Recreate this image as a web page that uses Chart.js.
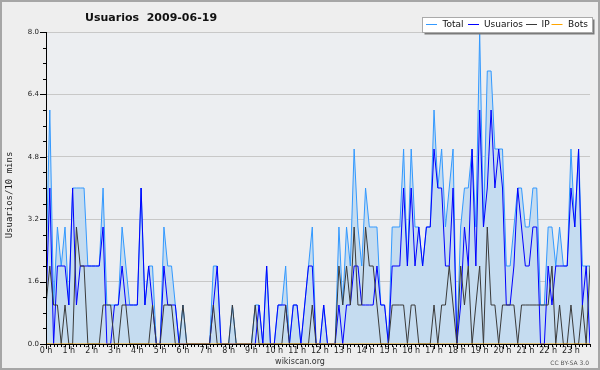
<!DOCTYPE html>
<html>
<head>
<meta charset="utf-8">
<script src="https://cdn.jsdelivr.net/npm/chart.js@4"></script>
<style>
  html, body { margin: 0; padding: 0; background: #eeeeee; }
  #wrap { width: 600px; height: 370px; }
</style>
</head>
<body>
<div id="wrap"><canvas id="chart" width="600" height="370"></canvas></div>
<script>
// 10-minute slots, 144 per day
const hourLabels = ['0 h', '1 h', '2 h', '3 h', '4 h', '5 h', '6 h', '7 h', '8 h', '9 h', '10 h', '11 h',
    '12 h', '13 h', '14 h', '15 h', '16 h', '17 h', '18 h', '19 h', '20 h', '21 h', '22 h', '23 h'];

const totalData = [
    2, 6, 1, 3, 2, 3, 1, 4, 4, 4, 4, 2, 2, 2, 2, 4, 1, 1, 1, 1, 3, 2, 1, 1,
    1, 4, 1, 2, 2, 0, 0, 3, 2, 2, 1, 0, 1, 0, 0, 0, 0, 0, 0, 0, 2, 2, 0, 0,
    0, 1, 0, 0, 0, 0, 0, 1, 1, 0, 2, 0, 0, 1, 1, 2, 0, 1, 1, 0, 1, 2, 3, 0,
    0, 1, 0, 0, 0, 3, 1, 3, 2, 5, 3, 2, 4, 3, 3, 3, 1, 1, 0, 3, 3, 3, 5, 2,
    5, 3, 3, 2, 3, 3, 6, 4, 5, 3, 4, 5, 0, 3, 4, 4, 5, 3, 8, 3, 7, 7, 5, 5,
    5, 2, 2, 3, 4, 4, 3, 3, 4, 4, 1, 1, 3, 3, 2, 3, 2, 2, 5, 3, 5, 2, 2, 2
];
const usuariosData = [
    1, 4, 0, 2, 2, 2, 1, 4, 1, 2, 2, 2, 2, 2, 2, 3, 0, 0, 1, 1, 2, 1, 1, 1,
    1, 4, 1, 2, 1, 0, 0, 2, 1, 1, 1, 0, 0, 0, 0, 0, 0, 0, 0, 0, 1, 2, 0, 0,
    0, 0, 0, 0, 0, 0, 0, 0, 1, 0, 2, 0, 0, 1, 1, 1, 0, 1, 1, 0, 1, 2, 2, 0,
    0, 1, 0, 0, 0, 1, 0, 1, 1, 2, 2, 1, 1, 1, 1, 2, 1, 1, 0, 2, 2, 2, 4, 2,
    4, 2, 3, 2, 3, 3, 5, 4, 4, 2, 2, 4, 0, 1, 3, 2, 5, 2, 6, 3, 4, 6, 4, 5,
    4, 1, 1, 2, 4, 3, 2, 2, 3, 3, 0, 0, 2, 1, 2, 2, 2, 2, 4, 3, 5, 1, 2, 0
];
const ipData = [
    1, 2, 1, 1, 0, 1, 0, 0, 3, 2, 2, 0, 0, 0, 0, 1, 1, 1, 0, 0, 1, 1, 0, 0,
    0, 0, 0, 0, 1, 0, 0, 1, 1, 1, 0, 0, 1, 0, 0, 0, 0, 0, 0, 0, 1, 0, 0, 0,
    0, 1, 0, 0, 0, 0, 0, 1, 0, 0, 0, 0, 0, 0, 0, 1, 0, 0, 0, 0, 0, 0, 1, 0,
    0, 0, 0, 0, 0, 2, 1, 2, 1, 3, 1, 1, 3, 2, 2, 1, 0, 0, 0, 1, 1, 1, 1, 0,
    1, 1, 0, 0, 0, 0, 1, 0, 1, 1, 2, 1, 0, 2, 1, 2, 0, 1, 2, 0, 3, 1, 1, 0,
    1, 1, 1, 1, 0, 1, 1, 1, 1, 1, 1, 1, 1, 2, 0, 1, 0, 0, 1, 0, 0, 1, 0, 2
];
const botsData = [
    0, 0, 0, 0, 0, 0, 0, 0, 0, 0, 0, 0, 0, 0, 0, 0, 0, 0, 0, 0, 0, 0, 0, 0,
    0, 0, 0, 0, 0, 0, 0, 0, 0, 0, 0, 0, 0, 0, 0, 0, 0, 0, 0, 0, 0, 0, 0, 0,
    0, 0, 0, 0, 0, 0, 0, 0, 0, 0, 0, 0, 0, 0, 0, 0, 0, 0, 0, 0, 0, 0, 0, 0,
    0, 0, 0, 0, 0, 0, 0, 0, 0, 0, 0, 0, 0, 0, 0, 0, 0, 0, 0, 0, 0, 0, 0, 0,
    0, 0, 0, 0, 0, 0, 0, 0, 0, 0, 0, 0, 0, 0, 0, 0, 0, 0, 0, 0, 0, 0, 0, 0,
    0, 0, 0, 0, 0, 0, 0, 0, 0, 0, 0, 0, 0, 0, 0, 0, 0, 0, 0, 0, 0, 0, 0, 0
];

const seriesNames = ['Total', 'Usuarios', 'IP', 'Bots'];
const seriesColors = ['#3399ff', '#0000ff', '#3a3a3a', '#ffa500'];

const toPoints = arr => arr.map((v, i) => ({ x: i, y: v }));

// background, frame, axes, ticks, texts, legend
const decor = {
    id: 'decor',
    beforeDraw(chart) {
        const { ctx, chartArea: a } = chart;
        ctx.save();
        ctx.fillStyle = '#eeeeee';
        ctx.fillRect(0, 0, chart.width, chart.height);
        ctx.fillStyle = '#eceef1';
        ctx.fillRect(a.left, a.top, a.right - a.left, a.bottom - a.top);
        ctx.strokeStyle = '#a6a6a6';
        ctx.lineWidth = 2;
        ctx.strokeRect(1, 1, chart.width - 2, chart.height - 2);
        ctx.restore();
    },
    afterDatasetsDraw(chart) {
        const { ctx, chartArea: a, scales } = chart;
        const xs = scales.x, ys = scales.y;
        ctx.save();
        ctx.strokeStyle = '#000';
        ctx.lineWidth = 1;
        ctx.beginPath();
        ctx.moveTo(a.left + 0.5, a.top);
        ctx.lineTo(a.left + 0.5, a.bottom + 0.5);
        ctx.lineTo(a.right + 1, a.bottom + 0.5);
        // y ticks every 0.4, long ones at labels
        for (let k = 0; k <= 20; k++) {
            const y = Math.round(ys.getPixelForValue(k * 0.4)) + 0.5;
            const len = k % 4 === 0 ? 6 : 3;
            ctx.moveTo(a.left - len, y);
            ctx.lineTo(a.left, y);
        }
        // x ticks every 10 minutes, longer each hour
        for (let i = 0; i < totalData.length; i++) {
            const x = Math.round(xs.getPixelForValue(i)) + 0.5;
            const len = i % 6 === 0 ? 5 : 3;
            ctx.moveTo(x, a.bottom);
            ctx.lineTo(x, a.bottom + len);
        }
        ctx.stroke();
        ctx.restore();
    },
    afterDraw(chart) {
        const { ctx } = chart;
        ctx.save();
        ctx.fillStyle = '#111';
        ctx.font = 'bold 11px "DejaVu Sans"';
        ctx.textAlign = 'left';
        ctx.textBaseline = 'alphabetic';
        ctx.fillText('Usuarios  2009-06-19', 85, 21);

        ctx.save();
        ctx.translate(12, 195);
        ctx.rotate(-Math.PI / 2);
        ctx.font = '9px "DejaVu Sans Mono"';
        ctx.textAlign = 'center';
        ctx.fillStyle = '#222';
        ctx.fillText('Usuarios/10 mins', 0, 0);
        ctx.restore();

        ctx.font = '8px "DejaVu Sans"';
        ctx.textAlign = 'center';
        ctx.textBaseline = 'middle';
        ctx.fillStyle = '#333';
        ctx.fillText('wikiscan.org', 300, 362);
        ctx.font = '6px "DejaVu Sans"';
        ctx.textAlign = 'right';
        ctx.fillStyle = '#555';
        ctx.fillText('CC BY-SA 3.0', 589, 363);

        // legend box
        const bx = 422.5, by = 17.5, bw = 170, bh = 15;
        ctx.fillStyle = '#7a7a7a';
        ctx.fillRect(bx + 2, by + 2, bw, bh);
        ctx.fillStyle = '#ffffff';
        ctx.fillRect(bx, by, bw, bh);
        ctx.strokeStyle = '#aaaaaa';
        ctx.lineWidth = 1;
        ctx.strokeRect(bx, by, bw, bh);
        const items = [[426, 442.5], [468, 484], [526, 541.5], [551.5, 568]];
        ctx.font = '9px "DejaVu Sans"';
        ctx.textAlign = 'left';
        ctx.textBaseline = 'middle';
        items.forEach(([lx, tx], i) => {
            ctx.strokeStyle = seriesColors[i];
            ctx.beginPath();
            ctx.moveTo(lx, 24.5);
            ctx.lineTo(lx + 11, 24.5);
            ctx.stroke();
            ctx.fillStyle = '#111';
            ctx.fillText(seriesNames[i], tx, 25);
        });
        ctx.restore();
    }
};

const ctx = document.getElementById('chart').getContext('2d');
new Chart(ctx, {
    type: 'line',
    data: {
        datasets: [
            { label: seriesNames[0], data: toPoints(totalData), borderColor: seriesColors[0], backgroundColor: '#c5dcf0', fill: 'origin', order: 4 },
            { label: seriesNames[1], data: toPoints(usuariosData), borderColor: seriesColors[1], fill: false, order: 3 },
            { label: seriesNames[2], data: toPoints(ipData), borderColor: seriesColors[2], fill: false, order: 2 },
            { label: seriesNames[3], data: toPoints(botsData), borderColor: seriesColors[3], fill: false, order: 1 }
        ]
    },
    options: {
        responsive: false,
        devicePixelRatio: 1,
        animation: false,
        events: [],
        elements: {
            point: { radius: 0 },
            line: { borderWidth: 1, tension: 0 }
        },
        layout: { padding: { left: 0, right: 10, top: 32, bottom: 0 } },
        plugins: {
            legend: { display: false },
            tooltip: { enabled: false },
            filler: { drawTime: 'beforeDatasetsDraw' }
        },
        scales: {
            x: {
                type: 'linear',
                min: 0,
                max: 143,
                afterFit: s => { s.height = 26; },
                afterBuildTicks: s => { s.ticks = hourLabels.map((_, h) => ({ value: h * 6 })); },
                grid: { display: false, drawTicks: false },
                border: { display: false },
                ticks: {
                    autoSkip: false,
                    maxRotation: 0,
                    padding: 2,
                    color: '#222',
                    font: { family: 'DejaVu Sans', size: 8 },
                    callback: v => hourLabels[v / 6]
                }
            },
            y: {
                min: 0,
                max: 8,
                afterFit: s => { s.width = 46; },
                grid: { color: '#c8c8c8', drawTicks: false },
                border: { display: false },
                ticks: {
                    stepSize: 1.6,
                    padding: 7,
                    color: '#222',
                    font: { family: 'DejaVu Sans', size: 7 },
                    callback: v => v.toFixed(1)
                }
            }
        }
    },
    plugins: [decor]
});
</script>
</body>
</html>
